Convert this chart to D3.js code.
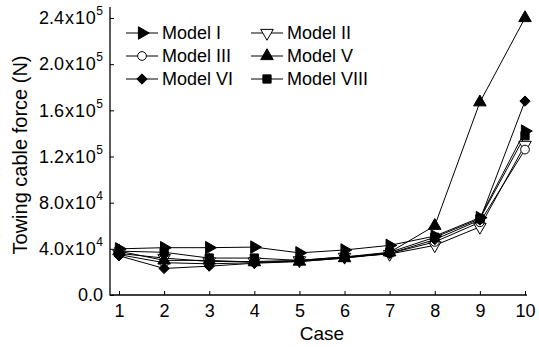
<!DOCTYPE html>
<html>
<head>
<meta charset="utf-8">
<script src="https://cdn.jsdelivr.net/npm/d3@7"></script>
<style>
  body { margin: 0; background: #fff; }
  svg { font-family: "Liberation Sans", Arial, sans-serif; }
</style>
</head>
<body>
<svg id="chart" width="539" height="347"></svg>
<script>
// data
const cases = [1, 2, 3, 4, 5, 6, 7, 8, 9, 10];
const modelI = [40000, 41000, 41000, 41500, 36500, 39000, 43000, 51000, 67000, 142000];
const modelII = [36000, 32000, 29000, 29000, 30000, 33000, 35500, 43000, 59000, 130000];
const modelIII = [35000, 28000, 27000, 28000, 29500, 32500, 36000, 46000, 63000, 126000];
const modelV = [38000, 30000, 30000, 28500, 29000, 32000, 37000, 60000, 167000, 240000];
const modelVI = [34000, 23000, 25000, 27500, 29000, 32000, 36000, 48000, 65000, 168000];
const modelVIII = [38000, 37000, 32000, 32000, 30000, 33000, 37000, 50000, 66000, 138000];
const yTicks = [0, 40000, 80000, 120000, 160000, 200000, 240000];

const series = [
  { name: 'Model I', values: modelI, sym: d3.symbolTriangle, rot: 90, fill: '#000' },
  { name: 'Model II', values: modelII, sym: d3.symbolTriangle, rot: 180, fill: '#fff' },
  { name: 'Model III', values: modelIII, sym: d3.symbolCircle, rot: 0, fill: '#fff' },
  { name: 'Model V', values: modelV, sym: d3.symbolTriangle, rot: 0, fill: '#000' },
  { name: 'Model VI', values: modelVI, sym: d3.symbolDiamond2 || d3.symbolDiamond, rot: 0, fill: '#000' },
  { name: 'Model VIII', values: modelVIII, sym: d3.symbolSquare, rot: 0, fill: '#000' }
];

const svg = d3.select('#chart');
const x = d3.scaleLinear().domain([1, 10]).range([119, 525]);
const y = d3.scaleLinear().domain([0, 240000]).range([295, 18]);

// axes (ticks point inward, domain drawn by hand)
const xAxis = svg.append('g').attr('transform', 'translate(0,295)')
  .call(d3.axisBottom(x).tickValues(cases).tickSize(-4).tickSizeOuter(0).tickPadding(9).tickFormat(d3.format('d')));
const yAxis = svg.append('g').attr('transform', 'translate(110,0)')
  .call(d3.axisLeft(y).tickValues(yTicks).tickSize(-4).tickSizeOuter(0).tickPadding(7));
[xAxis, yAxis].forEach(a => {
  a.select('.domain').remove();
  a.selectAll('.tick line').attr('stroke', '#000');
  a.selectAll('text').attr('fill', '#000').attr('font-size', 18)
    .attr('font-family', '"Liberation Sans", Arial, sans-serif');
});
xAxis.selectAll('text').attr('dy', '0.71em');

yAxis.selectAll('.tick text').each(function(d) {
  const t = d3.select(this).text('');
  if (d === 0) { t.text('0.0'); return; }
  const e = Math.floor(Math.log10(d));
  const m = (d / Math.pow(10, e)).toFixed(1);
  t.append('tspan').text(m);
  t.append('tspan').attr('dx', 1).text('x');
  t.append('tspan').attr('dx', 1).attr('letter-spacing', 0.6).text('10');
  t.append('tspan').attr('font-size', 12).attr('dy', '-0.75em').text(e);
});

svg.append('line').attr('x1', 110).attr('x2', 110).attr('y1', 295.5).attr('y2', 7)
  .attr('stroke', '#000').attr('stroke-width', 1.3);
svg.append('line').attr('x1', 110).attr('x2', 527).attr('y1', 295).attr('y2', 295)
  .attr('stroke', '#000').attr('stroke-width', 1.3);

// labels
svg.append('text').attr('x', 322).attr('y', 340).attr('text-anchor', 'middle')
  .attr('font-size', 19).text('Case');
svg.append('text').attr('transform', 'translate(27,155) rotate(-90)').attr('text-anchor', 'middle')
  .attr('font-size', 20).text('Towing cable force (N)');

// lines and markers
const line = d3.line().x((d, i) => x(cases[i])).y(d => y(d));
const markerPath = s => d3.symbol().type(s.sym).size(s.sym === d3.symbolCircle ? 60 : 68)();

series.forEach(s => {
  svg.append('path').datum(s.values).attr('d', line)
    .attr('fill', 'none').attr('stroke', '#000').attr('stroke-width', 1);
});
series.forEach(s => {
  svg.append('g').selectAll('path').data(s.values).join('path')
    .attr('d', markerPath(s))
    .attr('transform', (d, i) => `translate(${x(cases[i])},${y(d)}) rotate(${s.rot})`)
    .attr('fill', s.fill).attr('stroke', '#000').attr('stroke-width', 1);
});

// legend, two columns
const legend = svg.append('g');
series.forEach((s, i) => {
  const col = i % 2, row = Math.floor(i / 2);
  const lx = col === 0 ? 126 : 251;
  const ly = 33 + row * 23;
  const g = legend.append('g').attr('transform', `translate(${lx},${ly})`);
  g.append('line').attr('x1', 0).attr('x2', 32).attr('stroke', '#000').attr('stroke-width', 1);
  g.append('path').attr('d', markerPath(s))
    .attr('transform', `translate(16,0) rotate(${s.rot})`)
    .attr('fill', s.fill).attr('stroke', '#000');
  g.append('text').attr('x', 36).attr('dy', '0.36em').attr('font-size', 18).text(s.name);
});
</script>
</body>
</html>
